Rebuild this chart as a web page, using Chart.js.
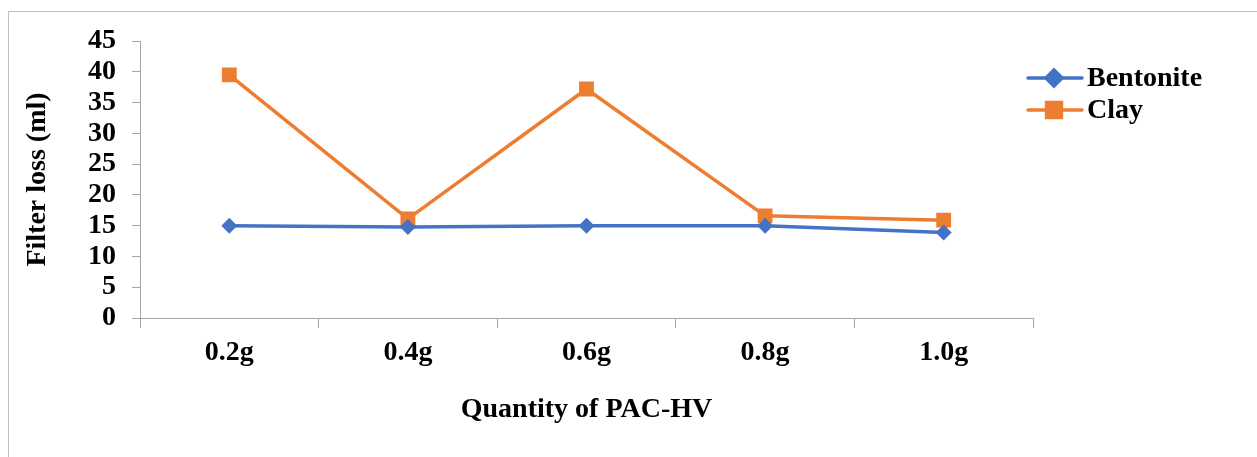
<!DOCTYPE html>
<html>
<head>
<meta charset="utf-8">
<script src="https://cdn.jsdelivr.net/npm/chart.js@4.4.1/dist/chart.umd.min.js"></script>
<style>
  html, body { margin: 0; padding: 0; background: #fff; }
  #wrap { width: 1257px; height: 457px; position: relative; }
</style>
</head>
<body>
<div id="wrap"><canvas id="c" width="1257" height="457"></canvas></div>
<script>
const categories = ['0.2g', '0.4g', '0.6g', '0.8g', '1.0g'];
const bentonite = [15.0, 14.8, 15.0, 15.0, 13.9];
const clay = [39.5, 16.1, 37.2, 16.6, 15.9];
const yTicks = [0, 5, 10, 15, 20, 25, 30, 35, 40, 45];

const FONT = "'Liberation Serif', 'Times New Roman', serif";
const AXIS = '#a6a6a6';

const frame = {
  id: 'frame',
  beforeDraw(chart) {
    const ctx = chart.ctx;
    ctx.save();
    ctx.fillStyle = '#fff';
    ctx.fillRect(0, 0, chart.width, chart.height);
    ctx.strokeStyle = '#bfbfbf';
    ctx.lineWidth = 1;
    ctx.strokeRect(8.5, 11.5, 1400, 600);
    ctx.restore();
  }
};

const legendPlugin = {
  id: 'customLegend',
  afterDraw(chart) {
    const ctx = chart.ctx;
    const x0 = chart.chartArea.right - 5;
    const rows = [78, 110];
    ctx.save();
    chart.data.datasets.forEach((ds, i) => {
      const y = rows[i];
      ctx.strokeStyle = ds.borderColor;
      ctx.lineWidth = 3.5;
      ctx.lineCap = 'round';
      ctx.beginPath();
      ctx.moveTo(x0, y);
      ctx.lineTo(x0 + 54, y);
      ctx.stroke();
      Chart.helpers.drawPoint(ctx, {pointStyle: ds.pointStyle, radius: ds.pointRadius, rotation: 0, borderWidth: 1}, x0 + 26, y);
      ctx.fillStyle = ds.backgroundColor;
      ctx.fill();
      ctx.fillStyle = '#000';
      ctx.font = 'bold 28px ' + FONT;
      ctx.textBaseline = 'middle';
      ctx.textAlign = 'left';
      ctx.fillText(ds.label, x0 + 59, y + 1);
    });
    ctx.restore();
  }
};

new Chart(document.getElementById('c'), {
  type: 'line',
  data: {
    labels: categories,
    datasets: [
      {
        label: 'Bentonite',
        data: bentonite,
        borderColor: '#4472C4',
        backgroundColor: '#4472C4',
        borderWidth: 3.5,
        pointStyle: 'rectRot',
        pointRadius: 8,
        pointBorderWidth: 0,
        tension: 0
      },
      {
        label: 'Clay',
        data: clay,
        borderColor: '#ED7D31',
        backgroundColor: '#ED7D31',
        borderWidth: 3.5,
        pointStyle: 'rect',
        pointRadius: 10.5,
        pointBorderWidth: 0,
        tension: 0
      }
    ]
  },
  options: {
    responsive: false,
    animation: false,
    layout: { padding: { top: 41, right: 224, left: 0, bottom: 0 } },
    plugins: { legend: { display: false }, tooltip: { enabled: false } },
    scales: {
      x: {
        type: 'category',
        offset: true,
        afterFit(s) { s.height = 139; },
        grid: { offset: true, drawOnChartArea: false, color: AXIS, tickLength: 10, lineWidth: 1 },
        border: { color: AXIS, width: 1 },
        ticks: { color: '#000', font: { family: FONT, size: 28, weight: 'bold' }, padding: 8, maxRotation: 0 },
        title: { display: true, text: 'Quantity of PAC-HV', color: '#000', font: { family: FONT, size: 28, weight: 'bold' }, padding: { top: 0, bottom: 30 } }
      },
      y: {
        min: 0,
        max: 45,
        afterFit(s) { s.width = 140; },
        afterBuildTicks(s) { s.ticks = yTicks.map(v => ({ value: v })); },
        grid: { drawOnChartArea: false, color: AXIS, tickLength: 8, lineWidth: 1 },
        border: { color: AXIS, width: 1 },
        ticks: { color: '#000', font: { family: FONT, size: 28, weight: 'bold' }, padding: 16, autoSkip: false },
        title: { display: true, text: 'Filter loss (ml)', color: '#000', font: { family: FONT, size: 28, weight: 'bold' }, padding: { top: 21, bottom: 0 } }
      }
    }
  },
  plugins: [frame, legendPlugin]
});
</script>
</body>
</html>
